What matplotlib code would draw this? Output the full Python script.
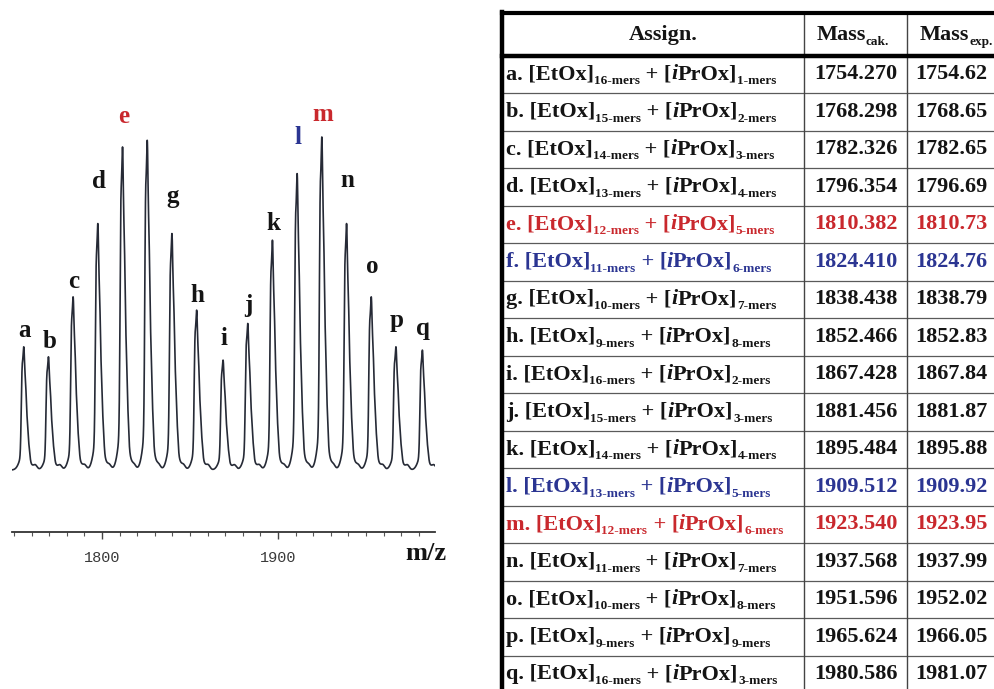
import numpy as np
import matplotlib
matplotlib.use('Agg')
import matplotlib.pyplot as plt

plt.rcParams['font.family'] = ['Liberation Serif', 'DejaVu Serif']

# ---- data ----
peak_ids = list('abcdefghijklmnopq')
etox_units = [16, 15, 14, 13, 12, 11, 10, 9, 16, 15, 14, 13, 12, 11, 10, 9, 16]
iprox_units = [1, 2, 3, 4, 5, 6, 7, 8, 2, 3, 4, 5, 6, 7, 8, 9, 3]
mass_calc = [1754.270, 1768.298, 1782.326, 1796.354, 1810.382, 1824.410, 1838.438,
             1852.466, 1867.428, 1881.456, 1895.484, 1909.512, 1923.540, 1937.568,
             1951.596, 1965.624, 1980.586]
mass_exp = [1754.62, 1768.65, 1782.65, 1796.69, 1810.73, 1824.76, 1838.79, 1852.83,
            1867.84, 1881.87, 1895.88, 1909.92, 1923.95, 1937.99, 1952.02, 1966.05,
            1981.07]
# relative peak heights (%)
intensity = [37, 34, 52, 74, 97, 99, 71, 48, 33, 44, 69, 89, 100, 74, 52, 37, 36]
labelled = [True] * 17
labelled[5] = False          # peak f carries no letter in the spectrum
highlight = {'e': 'red', 'f': 'blue', 'l': 'blue', 'm': 'red'}
header = ['Assign.', 'Mass', 'Mass']
header_sub = ['', 'cak.', 'exp.']

# ---- layout / style ----
W, H = 994, 689
RED, BLUE, INK = '#c9282d', '#2b3592', '#141414'
label_gap = [5, 4.5, 4.5, 12.5, 9, 0, 11, 4.5, 6.6, 5.5, 5, 10.7, 6.6, 13, 9, 8, 6.6]
colmap = {'red': RED, 'blue': BLUE}
MAIN, SUB = 16, 9.5

fig = plt.figure(figsize=(W / 100, H / 100), dpi=100)

# spectrum panel
ax = fig.add_axes([12 / W, 1 - 532 / H, 423 / W, 432 / H])
x = np.linspace(1748.9, 1989.2, 8000)
iso_w = np.array([0.85, 1.0, 0.62, 0.28, 0.1])
y = np.zeros_like(x)
for m, h in zip(mass_exp, intensity):
    prof = sum(w * np.exp(-0.5 * ((x - m - k) / 0.47) ** 2) for k, w in enumerate(iso_w))
    prof = prof + 0.25 * np.exp(-0.5 * ((x - m - 1.5) / 2.3) ** 2)
    y += h * prof / prof.max()
    y += 1.4 * np.exp(-0.5 * ((x - m - 7.5) / 1.1) ** 2)
ax.plot(x, y, color='#262a36', lw=1.2)

for i, pid in enumerate(peak_ids):
    if not labelled[i]:
        continue
    c = colmap.get(highlight.get(pid), INK)
    ax.text(mass_exp[i] + 1.5, intensity[i] + label_gap[i], pid, ha='center', va='center',
            fontsize=18, fontweight='bold', color=c)

ax.set_xlim(1748.9, 1989.2)
ax.set_ylim(-18.6, 111.1)
for s in ['left', 'right', 'top']:
    ax.spines[s].set_visible(False)
ax.spines['bottom'].set_linewidth(1.3)
ax.spines['bottom'].set_color('#333333')
ax.set_yticks([])
ax.set_xticks([1800, 1900])
ax.set_xticks(np.arange(1750, 1990, 10), minor=True)
ax.tick_params(axis='x', which='major', length=5, width=1, color='#444444', pad=9,
               labelsize=11, labelcolor='#3a3a3a')
ax.tick_params(axis='x', which='minor', length=3, width=0.8, color='#555555')
for t in ax.get_xticklabels():
    t.set_family('Liberation Mono')
fig.text(426 / W, 1 - 553 / H, 'm/z', ha='center', va='center', fontsize=19,
         fontweight='bold', color=INK)

# table panel, drawn in pixel units
tab = fig.add_axes([0, 0, 1, 1])
tab.set_xlim(0, W)
tab.set_ylim(H, 0)
tab.axis('off')
renderer = fig.canvas.get_renderer()

x0, xc1, xc2, xr = 502, 804, 907, 1010
y0, yh, rh = 13, 55.5, 37.5
n = len(peak_ids)
rows_y = [yh + i * rh for i in range(n + 1)]

for yy in rows_y[1:]:
    tab.plot([x0, xr], [yy, yy], color='#5a5a5a', lw=0.9)
tab.plot([xc1, xc1], [y0, H + 5], color='#444444', lw=1.0)
tab.plot([xc2, xc2], [y0, H + 5], color='#444444', lw=1.0)
tab.plot([x0, xr], [y0, y0], color='black', lw=3)
tab.plot([x0, xr], [yh, yh], color='black', lw=3.2)
tab.plot([x0, x0], [y0 - 1.5, H + 5], color='black', lw=3.2)


def draw_run(xs, ybase, pieces, color):
    # pieces: (text, kind) with kind main / sub / ital
    for txt, kind in pieces:
        size = SUB if kind == 'sub' else MAIN
        dy = 5 if kind == 'sub' else 0
        style = 'italic' if kind == 'ital' else 'normal'
        t = tab.text(xs, ybase + dy, txt, ha='left', va='baseline', fontsize=size,
                     fontweight='bold', fontstyle=style, color=color)
        xs += t.get_window_extent(renderer).width
    return xs


def run_width(pieces):
    tot = 0
    for txt, kind in pieces:
        size = SUB if kind == 'sub' else MAIN
        t = tab.text(0, 0, txt, fontsize=size, fontweight='bold')
        tot += t.get_window_extent(renderer).width
        t.remove()
    return tot


hy = (y0 + yh) / 2 + 6
tab.text(663, hy, header[0], ha='center', va='baseline', fontsize=MAIN,
         fontweight='bold', color=INK)
for cx, main, sub in [(853, header[1], header_sub[1]), (956, header[2], header_sub[2])]:
    pcs = [(main, 'main'), (sub, 'sub')]
    draw_run(cx - run_width(pcs) / 2, hy, pcs, INK)

for i, pid in enumerate(peak_ids):
    c = colmap.get(highlight.get(pid), INK)
    base = rows_y[i] + rh / 2 + 5
    pcs = [(f'{pid}. [EtOx]', 'main'), (f'{etox_units[i]}-mers', 'sub'),
           (' + [', 'main'), ('i', 'ital'), ('PrOx]', 'main'),
           (f'{iprox_units[i]}-mers', 'sub')]
    draw_run(506, base, pcs, c)
    tab.text((xc1 + xc2) / 2, base, f'{mass_calc[i]:.3f}', ha='center', va='baseline',
             fontsize=MAIN, fontweight='bold', color=c)
    tab.text(915, base, f'{mass_exp[i]:.2f}', ha='left', va='baseline',
             fontsize=MAIN, fontweight='bold', color=c)

fig.savefig('out.png', dpi=100)
